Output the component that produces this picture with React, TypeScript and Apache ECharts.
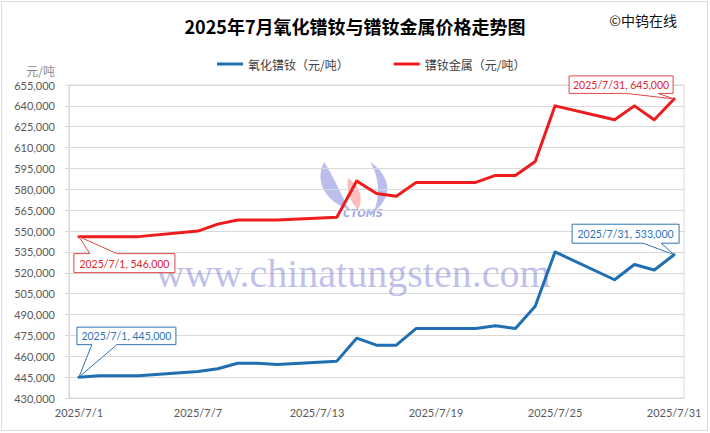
import React, { useEffect, useRef } from "react";
import * as echarts from "echarts";

const categories = [
  "2025/7/1", "2025/7/2", "2025/7/3", "2025/7/4", "2025/7/5", "2025/7/6", "2025/7/7", "2025/7/8",
  "2025/7/9", "2025/7/10", "2025/7/11", "2025/7/12", "2025/7/13", "2025/7/14", "2025/7/15", "2025/7/16",
  "2025/7/17", "2025/7/18", "2025/7/19", "2025/7/20", "2025/7/21", "2025/7/22", "2025/7/23", "2025/7/24",
  "2025/7/25", "2025/7/26", "2025/7/27", "2025/7/28", "2025/7/29", "2025/7/30", "2025/7/31",
];

const oxideName = "氧化镨钕（元/吨）";
const metalName = "镨钕金属（元/吨）";

const oxideValues = [
  445000, 446000, 446000, 446000, null, null, 449000, 451000,
  455000, 455000, 454000, null, null, 456500, 473000, 468000,
  468000, 480000, null, null, 480000, 482000, 480000, 496000,
  535000, null, null, 515000, 526000, 522000, 533000,
];

const metalValues = [
  546000, 546000, 546000, 546000, null, null, 550000, 555000,
  558000, 558000, 558000, null, null, 560000, 586000, 577000,
  575000, 585000, null, null, 585000, 590000, 590000, 600000,
  640000, null, null, 630000, 640000, 630000, 645000,
];

const yMin = 430000;
const yMax = 655000;
const yStep = 15000;

// callouts: which series and which day
const callouts = [
  { series: 0, day: 0 },
  { series: 0, day: 30 },
  { series: 1, day: 0 },
  { series: 1, day: 30 },
];

const fmt = (v: number) => String(v).replace(/\B(?=(\d{3})+(?!\d))/g, ",");

const BLUE = "#1f6fb2";
const RED = "#ee1c1c";

export default function App() {
  const ref = useRef<HTMLDivElement>(null);

  useEffect(() => {
    if (!ref.current) return;

    echarts.graphic.registerShape(
      "flameLeft",
      echarts.graphic.extendPath("M 4 2 C -6 22, 6 42, 30 50 C 22 38, 16 20, 4 2 Z", {})
    );
    echarts.graphic.registerShape(
      "flameRight",
      echarts.graphic.extendPath("M 50 2 C 68 14, 76 34, 54 52 C 60 36, 60 18, 50 2 Z", {})
    );
    echarts.graphic.registerShape(
      "flameMid",
      echarts.graphic.extendPath("M 28 18 C 40 26, 44 38, 38 50 C 30 42, 26 30, 28 18 Z", {})
    );

    const chart = echarts.init(ref.current, null, { renderer: "svg" });

    const seriesValues = [oxideValues, metalValues];
    const textColors = ["#2e75b6", "#e0262a"];
    const borderColors = ["#2e75b6", "#e04848"];

    // layout of each callout box relative to its data point (px)
    const layout = [
      { x0: -2, x1: 97, y0: -50, y1: -32.5, side: "bottom", w1: 13, w2: 38 },
      { x0: -102, x1: 5, y0: -30.5, y1: -11.5, side: "bottom", w1: -31, w2: -13 },
      { x0: -5, x1: 96, y0: 17, y1: 36, side: "top", w1: 11, w2: 38 },
      { x0: -105, x1: -1, y0: -23, y1: -5.5, side: "bottom", w1: -48, w2: -16 },
    ];

    const calloutData = callouts.map((c) => [c.day, seriesValues[c.series][c.day] as number]);

    const option: any = {
      animation: false,
      backgroundColor: "#ffffff",
      title: [
        {
          text: "2025年7月氧化镨钕与镨钕金属价格走势图",
          left: "center",
          top: 12,
          textStyle: {
            fontFamily: "'Noto Sans CJK SC', sans-serif",
            fontSize: 18,
            fontWeight: "bold",
            color: "#000000",
          },
        },
        {
          text: "©中钨在线",
          right: 28,
          top: 8,
          textStyle: {
            fontFamily: "'Noto Sans CJK SC', sans-serif",
            fontSize: 14,
            fontWeight: "normal",
            color: "#111111",
          },
        },
      ],
      legend: {
        data: [oxideName, metalName],
        left: 212,
        top: 53,
        icon: "rect",
        itemWidth: 26,
        itemHeight: 3,
        itemGap: 45,
        textStyle: {
          fontFamily: "'Noto Sans CJK SC', sans-serif",
          fontSize: 12,
          color: "#404040",
        },
      },
      grid: {
        left: 69,
        right: 26,
        top: 85,
        bottom: 35,
        show: true,
        borderColor: "#d9d9d9",
        borderWidth: 1,
        containLabel: false,
      },
      xAxis: {
        type: "category",
        data: categories,
        boundaryGap: true,
        axisLine: { show: true, lineStyle: { color: "#d9d9d9" } },
        axisTick: { show: false },
        axisLabel: {
          interval: 5,
          color: "#595959",
          fontSize: 11,
          fontFamily: "Lato, sans-serif",
          margin: 9,
        },
        splitLine: { show: false },
      },
      yAxis: {
        type: "value",
        min: yMin,
        max: yMax,
        interval: yStep,
        name: "元/吨",
        nameLocation: "end",
        nameGap: 9,
        nameTextStyle: {
          align: "right",
          padding: [0, 14, 0, 0],
          color: "#8c8c8c",
          fontSize: 12,
          fontFamily: "'Noto Sans CJK SC', sans-serif",
        },
        axisLine: { show: true, lineStyle: { color: "#d9d9d9" } },
        axisTick: { show: true, length: 4, lineStyle: { color: "#d9d9d9" } },
        axisLabel: {
          formatter: (v: number) => fmt(v),
          color: "#595959",
          fontSize: 11,
          fontFamily: "Lato, sans-serif",
          margin: 14,
        },
        splitLine: { show: true, lineStyle: { color: "#d9d9d9", width: 1 } },
      },
      graphic: [
        {
          type: "rect",
          shape: { x: 1.5, y: 1.5, width: 706, height: 429 },
          style: { fill: "none", stroke: "#d9d9d9", lineWidth: 1 },
          z: -10,
          silent: true,
        },
        {
          type: "group",
          x: 320,
          y: 160,
          z: 1,
          silent: true,
          children: [
            { type: "flameLeft", x: 0, y: 0, scaleX: 1, scaleY: 1, style: { fill: "rgba(100,110,215,0.45)" } },
            { type: "flameRight", x: 0, y: 0, scaleX: 1, scaleY: 1, style: { fill: "rgba(100,110,215,0.45)" } },
            { type: "flameMid", x: 0, y: 0, scaleX: 1, scaleY: 1, style: { fill: "rgba(240,110,110,0.45)" } },
            {
              type: "text",
              style: {
                text: "CTOMS",
                x: 43,
                y: 53,
                align: "center",
                verticalAlign: "middle",
                fill: "rgba(120,130,215,0.7)",
                font: "italic bold 10px 'DejaVu Sans', sans-serif",
              },
            },
          ],
        },
        {
          type: "text",
          z: 1,
          silent: true,
          style: {
            text: "www.chinatungsten.com",
            x: 353,
            y: 253,
            align: "center",
            verticalAlign: "alphabetic",
            fill: "rgba(130,130,215,0.5)",
            font: "40px 'Liberation Serif', serif",
          },
        },
      ],
      series: [
        {
          name: oxideName,
          type: "line",
          data: oxideValues,
          connectNulls: true,
          showSymbol: false,
          symbol: "none",
          color: BLUE,
          lineStyle: { width: 3, color: BLUE, cap: "round", join: "round" },
          z: 3,
        },
        {
          name: metalName,
          type: "line",
          data: metalValues,
          connectNulls: true,
          showSymbol: false,
          symbol: "none",
          color: RED,
          lineStyle: { width: 3, color: RED, cap: "round", join: "round" },
          z: 3,
        },
        {
          type: "custom",
          name: "callouts",
          coordinateSystem: "cartesian2d",
          data: calloutData,
          clip: false,
          silent: true,
          z: 10,
          renderItem: (params: any, api: any) => {
            const i = params.dataIndex;
            const c = callouts[i];
            const L = layout[i];
            const p = api.coord([api.value(0), api.value(1)]);
            const X0 = p[0] + L.x0;
            const X1 = p[0] + L.x1;
            const Y0 = p[1] + L.y0;
            const Y1 = p[1] + L.y1;
            const W1 = p[0] + L.w1;
            const W2 = p[0] + L.w2;
            let points: number[][];
            if (L.side === "bottom") {
              points = [[X0, Y0], [X1, Y0], [X1, Y1], [W2, Y1], [p[0], p[1]], [W1, Y1], [X0, Y1]];
            } else {
              points = [[X0, Y0], [W1, Y0], [p[0], p[1]], [W2, Y0], [X1, Y0], [X1, Y1], [X0, Y1]];
            }
            const text = `${categories[c.day]}, ${fmt(seriesValues[c.series][c.day] as number)}`;
            return {
              type: "group",
              children: [
                {
                  type: "polygon",
                  shape: { points },
                  style: { fill: "#ffffff", stroke: borderColors[c.series], lineWidth: 1 },
                },
                {
                  type: "text",
                  style: {
                    text,
                    x: (X0 + X1) / 2,
                    y: (Y0 + Y1) / 2 + 0.5,
                    align: "center",
                    verticalAlign: "middle",
                    fill: textColors[c.series],
                    font: "10.5px Lato, sans-serif",
                  },
                },
              ],
            };
          },
        },
      ],
    };

    chart.setOption(option);
    return () => {
      chart.dispose();
    };
  }, []);

  return (
    <div
      ref={ref}
      style={{ position: "fixed", left: 0, top: 0, width: 710, height: 433, background: "#fff" }}
    />
  );
}
